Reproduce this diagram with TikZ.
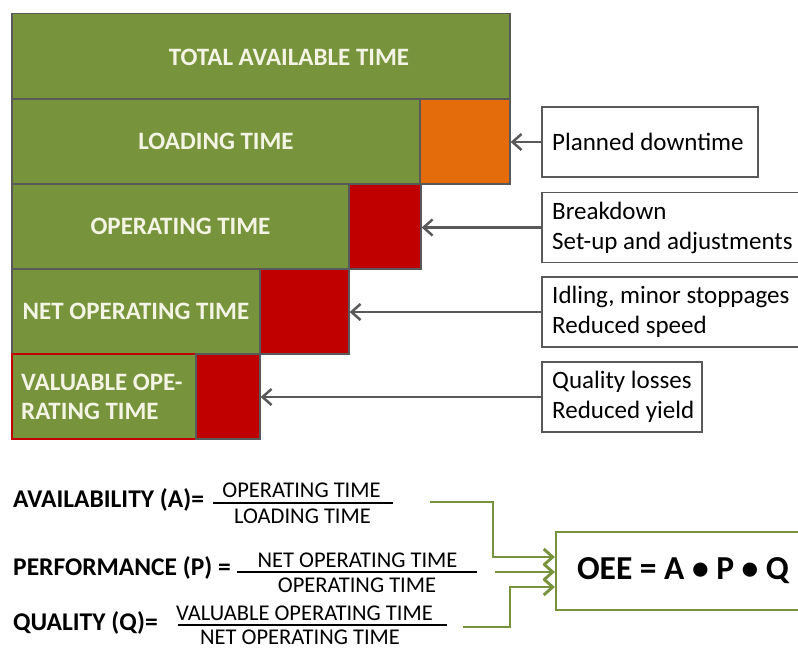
\documentclass[tikz,border=0pt]{standalone}
\usepackage{fontspec}
\setmainfont{Carlito}
\usetikzlibrary{arrows.meta}
\definecolor{oliveg}{HTML}{77933C}
\definecolor{orng}{HTML}{E46C0A}
\definecolor{redd}{HTML}{C00000}
\definecolor{gline}{HTML}{595959}
\definecolor{btext}{HTML}{F4F4E4}
\begin{document}
\begin{tikzpicture}[x=1pt,y=-1pt,
  bar/.style={draw=gline, line width=1.3pt, fill=oliveg, inner sep=0pt, minimum height=85pt},
  lossbox/.style={draw=gline, line width=1.3pt, fill=redd, inner sep=0pt, minimum height=85pt},
  bartext/.style={text=btext, font=\fontsize{25}{29}\selectfont\bfseries, inner sep=0pt},
  notebox/.style={draw=gline, line width=1.8pt, fill=white, minimum height=70pt, inner sep=0pt},
  notetext/.style={font=\fontsize{25}{30}\selectfont, align=left, anchor=west, inner sep=0pt},
  grarrow/.style={draw=gline, line width=2.5pt, -{Straight Barb[length=9pt,width=16pt,line width=2.5pt]}},
  flabel/.style={font=\fontsize{25.5}{30}\selectfont\bfseries, anchor=base west, inner sep=0pt},
  fnum/.style={font=\fontsize{22.5}{26}\selectfont, inner sep=0pt, anchor=base},
  fbar/.style={line width=2pt},
  gnarrow/.style={draw=oliveg, line width=2.9pt, -{Straight Barb[length=9pt,width=16pt,line width=2.9pt]}}
]
\useasboundingbox (0,0) rectangle (798,653);

% bars
\node[bar, minimum width=498pt] (tat) at (261,56) {};
\node[bartext] (tatt) at (289,57) {TOTAL AVAILABLE TIME};

\node[bar, minimum width=408pt] (lt) at (216,141.5) {};
\node[bartext] (ltt) at (lt.center) {LOADING TIME};
\node[draw=gline, line width=1.3pt, fill=orng, inner sep=0pt, minimum height=85pt, minimum width=90pt] (pd) at (465,141.5) {};

\node[bar, minimum width=337pt] (ot) at (180.5,226.5) {};
\node[bartext] (ott) at (ot.center) {OPERATING TIME};
\node[lossbox, minimum width=72pt] (bd) at (385,226.5) {};

\node[bar, minimum width=248pt] (nt) at (136,311.5) {};
\node[bartext] (ntt) at (nt.center) {NET OPERATING TIME};
\node[lossbox, minimum width=89pt] (sp) at (304.5,311.5) {};

\node[bar, draw=redd, minimum width=184pt] (vt) at (104,396.5) {};
\node[bartext, align=left, anchor=west, font=\fontsize{25}{29}\selectfont\bfseries] (vtt) at (21,397) {VALUABLE OPE-\\RATING TIME};
\node[lossbox, minimum width=64pt] (ql) at (228,396.5) {};

% note boxes
\node[notebox, minimum width=216pt] (n1) at (650,142) {};
\node[notetext] (n1t) at (552,142) {Planned downtime};
\node[notebox, minimum width=262pt] (n2) at (673,227.5) {};
\node[notetext] (n2t) at (552,227.5) {Breakdown\\Set-up and adjustments};
\node[notebox, minimum width=262pt] (n3) at (673,312) {};
\node[notetext] (n3t) at (552,312) {Idling, minor stoppages\\Reduced speed};
\node[notebox, minimum width=160pt] (n4) at (622,397) {};
\node[notetext] (n4t) at (552,397) {Quality losses\\Reduced yield};

\draw[grarrow] (n1.west) -- (n1.west -| pd.east);
\draw[grarrow] (n2.west) -- (n2.west -| bd.east);
\draw[grarrow] (n3.west) -- (n3.west -| sp.east);
\draw[grarrow] (n4.west) -- (n4.west -| ql.east);

% formulas
\node[flabel] (la) at (13,507) {AVAILABILITY (A)=};
\node[fnum] (fa) at (301.5,497) {OPERATING TIME};
\coordinate (fa1) at (213,503);
\coordinate (fa2) at (393,503);
\draw[fbar] (fa1) -- (fa2);
\node[fnum] (fad) at (302.5,523) {LOADING TIME};

\node[flabel] (lp) at (13,575) {PERFORMANCE (P) =};
\node[fnum] (fp) at (357.5,567) {NET OPERATING TIME};
\coordinate (fp1) at (237,572);
\coordinate (fp2) at (477,572);
\draw[fbar] (fp1) -- (fp2);
\node[fnum] (fpd) at (357,592) {OPERATING TIME};

\node[flabel] (lq) at (13,630) {QUALITY (Q)=};
\node[fnum] (fq) at (304.5,620) {VALUABLE OPERATING TIME};
\coordinate (fq1) at (178,625);
\coordinate (fq2) at (447,625);
\draw[fbar] (fq1) -- (fq2);
\node[fnum, text depth=0pt] (fqd) at (300,644) {NET OPERATING TIME};

% OEE
\node[draw=oliveg, line width=2.2pt, fill=white, minimum width=254pt, minimum height=78pt, inner sep=0pt] (oee) at (683,571) {};
\node[font=\fontsize{33.5}{38}\selectfont\bfseries, inner sep=0pt] (oeet) at (683,571) {OEE = A • P • Q};

\coordinate (sa) at (430,502);
\coordinate (sp2) at (495,572);
\coordinate (sq) at (463,627);
\draw[gnarrow] (sa) -- (493,502) -- (493,557) -- (oee.west |- 0,557);
\draw[gnarrow] (sp2) -- (oee.west |- 0,572);
\draw[gnarrow] (sq) -- (510,627) -- (510,587) -- (oee.west |- 0,587);
\end{tikzpicture}
\end{document}
